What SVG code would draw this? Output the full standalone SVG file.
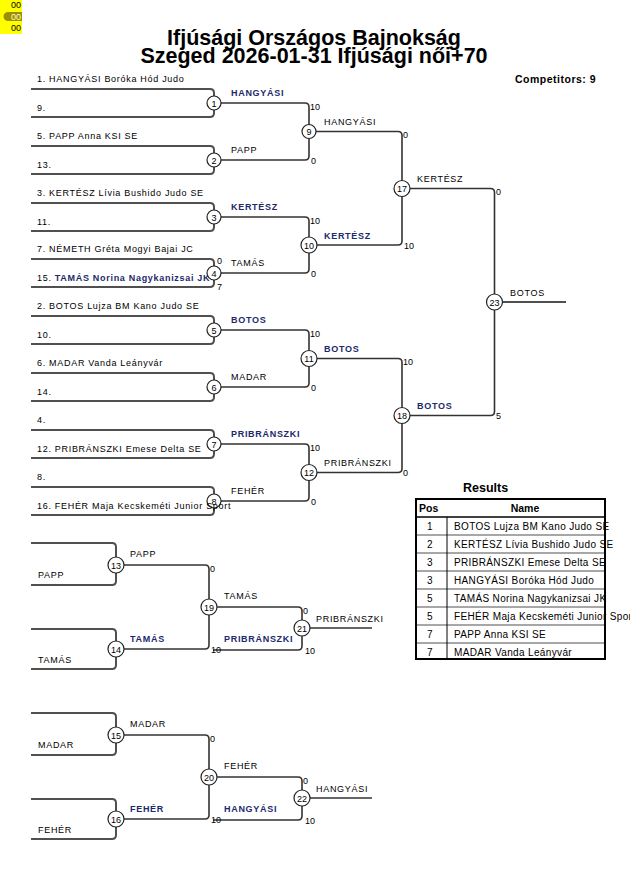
<svg xmlns="http://www.w3.org/2000/svg" width="630" height="891" viewBox="0 0 630 891">
<style>
text{font-family:"Liberation Sans",Arial,sans-serif;fill:#000}
.e{fill:none;stroke:#505050;stroke-width:2}
.w{fill:none;stroke:#333;stroke-width:1.6}
.c{fill:#fff;stroke:#222;stroke-width:1.2}
.n{font-size:9px;text-anchor:middle}
.t{font-size:9px;letter-spacing:0.7px}
.b{font-weight:bold;fill:#1c2a6b}
.s{font-size:9px}
.r{font-size:10px;letter-spacing:0.35px}
.h{font-size:10.5px;font-weight:bold}
</style>
<rect width="630" height="891" fill="#fff"/>
<g id="marker-box">
<rect x="0" y="0" width="22" height="34" fill="#ffff00"/>
<path d="M8,12 H22 V21 H8 A4.5,4.5 0 0 1 8,12 Z" fill="#9c9000"/>
<text x="11" y="8" class="s">00</text>
<text x="11" y="20" class="s" style="fill:#ffffc8">00</text>
<text x="11" y="31" class="s">00</text>
</g>
<g id="title">
<text x="314" y="44.5" text-anchor="middle" style="font-size:21.5px;font-weight:bold">Ifjúsági Országos Bajnokság</text>
<text x="314" y="63" text-anchor="middle" style="font-size:21.5px;font-weight:bold">Szeged 2026-01-31 Ifjúsági női+70</text>
<text x="515" y="83" style="font-size:10.5px;font-weight:bold;letter-spacing:0.5px">Competitors: 9</text>
</g>
<g id="connectors">
<path class="e" d="M31,89 H210 Q214,89 214,93 V96"/><path class="e" d="M31,117 H210 Q214,117 214,113 V110"/>
<path class="e" d="M31,146 H210 Q214,146 214,150 V153"/><path class="e" d="M31,174 H210 Q214,174 214,170 V167"/>
<path class="e" d="M31,203 H210 Q214,203 214,207 V210"/><path class="e" d="M31,231 H210 Q214,231 214,227 V224"/>
<path class="e" d="M31,259 H210 Q214,259 214,263 V266"/><path class="e" d="M31,287 H210 Q214,287 214,283 V280"/>
<path class="e" d="M31,316 H210 Q214,316 214,320 V323"/><path class="e" d="M31,344 H210 Q214,344 214,340 V337"/>
<path class="e" d="M31,373 H210 Q214,373 214,377 V380"/><path class="e" d="M31,401 H210 Q214,401 214,397 V394"/>
<path class="e" d="M31,430 H210 Q214,430 214,434 V437"/><path class="e" d="M31,458 H210 Q214,458 214,454 V451"/>
<path class="e" d="M31,487 H210 Q214,487 214,491 V494"/><path class="e" d="M31,515 H210 Q214,515 214,511 V508"/>
<path class="w" d="M221,103 H305 Q309,103 309,107 V124.5"/><path class="w" d="M221,160 H305 Q309,160 309,156 V138.5"/>
<path class="w" d="M221,217 H305 Q309,217 309,221 V237"/><path class="w" d="M221,273 H305 Q309,273 309,269 V253"/>
<path class="w" d="M221,330 H305 Q309,330 309,334 V350.5"/><path class="w" d="M221,387 H305 Q309,387 309,383 V366.5"/>
<path class="w" d="M221,444 H305 Q309,444 309,448 V464.5"/><path class="w" d="M221,501 H305 Q309,501 309,497 V480.5"/>
<path class="w" d="M316,131.5 H398 Q402,131.5 402,135.5 V180.5"/><path class="w" d="M317,245 H398 Q402,245 402,241 V196.5"/>
<path class="w" d="M317,358.5 H398 Q402,358.5 402,362.5 V407.5"/><path class="w" d="M317,472.5 H398 Q402,472.5 402,468.5 V423.5"/>
<path class="w" d="M410,188.5 H490.5 Q494.5,188.5 494.5,192.5 V294"/><path class="w" d="M410,415.5 H490.5 Q494.5,415.5 494.5,411.5 V310"/>
<path class="e" d="M502.5,302 H566"/>
<path class="e" d="M31,543 H112 Q116,543 116,547 V557"/><path class="e" d="M31,585 H112 Q116,585 116,581 V573"/>
<path class="e" d="M31,629 H112 Q116,629 116,633 V641"/><path class="e" d="M31,669 H112 Q116,669 116,665 V657"/>
<path class="w" d="M124,565 H205 Q209,565 209,569 V599"/><path class="w" d="M124,649 H205 Q209,649 209,645 V615"/>
<path class="w" d="M217,607 H298 Q302,607 302,611 V620"/><path class="w" d="M213,650 H298 Q302,650 302,646 V636"/>
<path class="w" d="M310,628 H372"/>
<path class="e" d="M31,713 H112 Q116,713 116,717 V727"/><path class="e" d="M31,755 H112 Q116,755 116,751 V743"/>
<path class="e" d="M31,799 H112 Q116,799 116,803 V811"/><path class="e" d="M31,839 H112 Q116,839 116,835 V827"/>
<path class="w" d="M124,735 H205 Q209,735 209,739 V769"/><path class="w" d="M124,819 H205 Q209,819 209,815 V785"/>
<path class="w" d="M217,777 H298 Q302,777 302,781 V790"/><path class="w" d="M213,820 H298 Q302,820 302,816 V806"/>
<path class="w" d="M310,798 H372"/>
</g>
<g id="entries">
<text x="37" y="82" class="t">1. HANGYÁSI Boróka Hód Judo</text><text x="37" y="111" class="t">9.</text>
<text x="37" y="139" class="t">5. PAPP Anna KSI SE</text><text x="37" y="168" class="t">13.</text>
<text x="37" y="196" class="t">3. KERTÉSZ Lívia Bushido Judo SE</text><text x="37" y="225" class="t">11.</text>
<text x="37" y="252" class="t">7. NÉMETH Gréta Mogyi Bajai JC</text><text x="37" y="281" class="t">15. <tspan class="b">TAMÁS Norina Nagykanizsai JK</tspan></text>
<text x="37" y="309" class="t">2. BOTOS Lujza BM Kano Judo SE</text><text x="37" y="338" class="t">10.</text>
<text x="37" y="366" class="t">6. MADAR Vanda Leányvár</text><text x="37" y="395" class="t">14.</text>
<text x="37" y="423" class="t">4.</text><text x="37" y="452" class="t">12. PRIBRÁNSZKI Emese Delta SE</text>
<text x="37" y="480" class="t">8.</text>
</g>
<g id="m1"><circle class="c" cx="214" cy="103" r="7"/><text x="214" y="106.5" class="n">1</text></g>
<g id="m2"><circle class="c" cx="214" cy="160" r="7"/><text x="214" y="163.5" class="n">2</text></g>
<g id="m3"><circle class="c" cx="214" cy="217" r="7"/><text x="214" y="220.5" class="n">3</text></g>
<g id="m4"><circle class="c" cx="214" cy="273" r="7"/><text x="214" y="276.5" class="n">4</text></g>
<g id="m5"><circle class="c" cx="214" cy="330" r="7"/><text x="214" y="333.5" class="n">5</text></g>
<g id="m6"><circle class="c" cx="214" cy="387" r="7"/><text x="214" y="390.5" class="n">6</text></g>
<g id="m7"><circle class="c" cx="214" cy="444" r="7"/><text x="214" y="447.5" class="n">7</text></g>
<g id="m8"><circle class="c" cx="214" cy="501" r="7"/><text x="214" y="504.5" class="n">8</text></g>
<text x="37" y="509" class="t">16. FEHÉR Maja Kecskeméti Junior Sport</text>
<g id="m9"><circle class="c" cx="309" cy="131.5" r="7"/><text x="309" y="135" class="n">9</text></g>
<g id="m10"><circle class="c" cx="309" cy="245" r="8"/><text x="309" y="248.5" class="n">10</text></g>
<g id="m11"><circle class="c" cx="309" cy="358.5" r="8"/><text x="309" y="362" class="n">11</text></g>
<g id="m12"><circle class="c" cx="309" cy="472.5" r="8"/><text x="309" y="476" class="n">12</text></g>
<g id="m17"><circle class="c" cx="402" cy="188.5" r="8"/><text x="402" y="192" class="n">17</text></g>
<g id="m18"><circle class="c" cx="402" cy="415.5" r="8"/><text x="402" y="419" class="n">18</text></g>
<g id="m23"><circle class="c" cx="494.5" cy="302" r="8"/><text x="494.5" y="305.5" class="n">23</text></g>
<g id="m13"><circle class="c" cx="116" cy="565" r="8"/><text x="116" y="568.5" class="n">13</text></g>
<g id="m14"><circle class="c" cx="116" cy="649" r="8"/><text x="116" y="652.5" class="n">14</text></g>
<g id="m19"><circle class="c" cx="209" cy="607" r="8"/><text x="209" y="610.5" class="n">19</text></g>
<g id="m21"><circle class="c" cx="302" cy="628" r="8"/><text x="302" y="631.5" class="n">21</text></g>
<g id="m15"><circle class="c" cx="116" cy="735" r="8"/><text x="116" y="738.5" class="n">15</text></g>
<g id="m16"><circle class="c" cx="116" cy="819" r="8"/><text x="116" y="822.5" class="n">16</text></g>
<g id="m20"><circle class="c" cx="209" cy="777" r="8"/><text x="209" y="780.5" class="n">20</text></g>
<g id="m22"><circle class="c" cx="302" cy="798" r="8"/><text x="302" y="801.5" class="n">22</text></g>
<g id="labels">
<text x="231" y="96" class="t b">HANGYÁSI</text><text x="231" y="153" class="t">PAPP</text>
<text x="231" y="210" class="t b">KERTÉSZ</text><text x="231" y="266" class="t">TAMÁS</text>
<text x="231" y="323" class="t b">BOTOS</text><text x="231" y="380" class="t">MADAR</text>
<text x="231" y="437" class="t b">PRIBRÁNSZKI</text><text x="231" y="494" class="t">FEHÉR</text>
<text x="324" y="125" class="t">HANGYÁSI</text><text x="324" y="238.5" class="t b">KERTÉSZ</text>
<text x="324" y="352" class="t b">BOTOS</text><text x="324" y="466" class="t">PRIBRÁNSZKI</text>
<text x="417" y="182" class="t">KERTÉSZ</text><text x="417" y="409" class="t b">BOTOS</text>
<text x="510" y="295.5" class="t">BOTOS</text>
<text x="38" y="578" class="t">PAPP</text><text x="38" y="663" class="t">TAMÁS</text>
<text x="130" y="557" class="t">PAPP</text><text x="130" y="642" class="t b">TAMÁS</text>
<text x="224" y="599" class="t">TAMÁS</text><text x="224" y="642" class="t b">PRIBRÁNSZKI</text>
<text x="316" y="622" class="t">PRIBRÁNSZKI</text>
<text x="38" y="748" class="t">MADAR</text><text x="38" y="833" class="t">FEHÉR</text>
<text x="130" y="727" class="t">MADAR</text><text x="130" y="812" class="t b">FEHÉR</text>
<text x="224" y="769" class="t">FEHÉR</text><text x="224" y="812" class="t b">HANGYÁSI</text>
<text x="316" y="792" class="t">HANGYÁSI</text>
</g>
<g id="scores">
<text x="217" y="264" class="s">0</text><text x="217" y="290" class="s">7</text>
<text x="310" y="110" class="s">10</text><text x="311" y="163.5" class="s">0</text>
<text x="310" y="224" class="s">10</text><text x="311" y="276.5" class="s">0</text>
<text x="310" y="337" class="s">10</text><text x="311" y="390.5" class="s">0</text>
<text x="310" y="451" class="s">10</text><text x="311" y="504.5" class="s">0</text>
<text x="403" y="138" class="s">0</text><text x="404" y="248.5" class="s">10</text>
<text x="403" y="365" class="s">10</text><text x="403" y="475.5" class="s">0</text>
<text x="496" y="195" class="s">0</text><text x="496" y="418.5" class="s">5</text>
<text x="210" y="572" class="s">0</text><text x="211" y="653" class="s">10</text>
<text x="303" y="614" class="s">0</text><text x="305" y="653.5" class="s">10</text>
<text x="210" y="742" class="s">0</text><text x="211" y="823" class="s">10</text>
<text x="303" y="784" class="s">0</text><text x="305" y="823.5" class="s">10</text>
</g>
<g id="results">
<text x="463" y="492" style="font-size:12.5px;font-weight:bold">Results</text>
<text x="419" y="512" class="h">Pos</text>
<text x="525" y="512" class="h" text-anchor="middle">Name</text>
<g class="r">
<text x="430" y="530" text-anchor="middle">1</text><text x="454" y="530">BOTOS Lujza BM Kano Judo SE</text>
<text x="430" y="548" text-anchor="middle">2</text><text x="454" y="548">KERTÉSZ Lívia Bushido Judo SE</text>
<text x="430" y="566" text-anchor="middle">3</text><text x="454" y="566">PRIBRÁNSZKI Emese Delta SE</text>
<text x="430" y="584" text-anchor="middle">3</text><text x="454" y="584">HANGYÁSI Boróka Hód Judo</text>
<text x="430" y="602" text-anchor="middle">5</text><text x="454" y="602">TAMÁS Norina Nagykanizsai JK</text>
<text x="430" y="620" text-anchor="middle">5</text><text x="454" y="620">FEHÉR Maja Kecskeméti Junior Sport</text>
<text x="430" y="638" text-anchor="middle">7</text><text x="454" y="638">PAPP Anna KSI SE</text>
<text x="430" y="656" text-anchor="middle">7</text><text x="454" y="656">MADAR Vanda Leányvár</text>
</g>
<g fill="none">
<path d="M416,535 H605 M416,553 H605 M416,571 H605 M416,589 H605 M416,607 H605 M416,625 H605 M416,643 H605" stroke="#8a8a8a" stroke-width="1.5"/>
<path d="M416,517 H605" stroke="#000" stroke-width="1.5"/>
<path d="M447,517 V659" stroke="#000" stroke-width="1"/>
<rect x="416" y="499" width="189" height="160" stroke="#000" stroke-width="2"/>
</g>
</g>
</svg>
